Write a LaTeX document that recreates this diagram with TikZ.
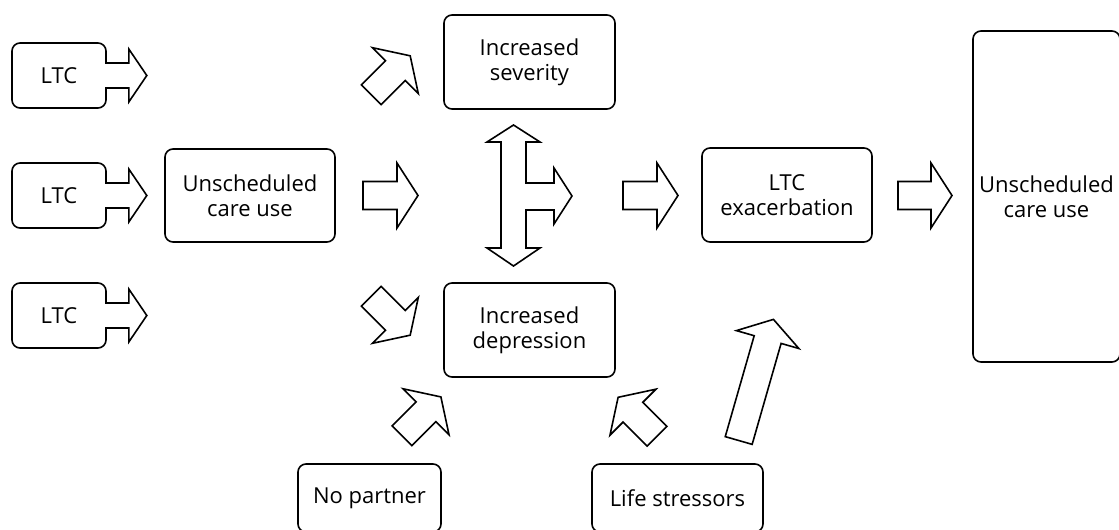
\documentclass[tikz,border=0pt]{standalone}
\usepackage{fontspec}
\setmainfont{Open Sans}
\tikzset{
  box/.style={draw, line width=1.6pt, rounded corners=8pt, align=center,
    inner sep=0pt, font=\fontsize{22}{25}\selectfont},
  outline/.style={draw, line width=1.6pt, line join=miter},
  % block arrow: base of the shaft at the origin, pointing along +x
  pics/blockarrow/.style={code={
    \draw[outline, fill=white] (0,-14) -- (#1,-14) -- (#1,-32.5) -- ({#1+21},0)
      -- (#1,32.5) -- (#1,14) -- (0,14) -- cycle;}},
  % arrow growing out of the right side of a box
  pics/boxarrow/.style={code={
    \fill[white] (-1.5,-11.7) rectangle (1.5,11.7);
    \draw[outline] (-0.8,12.5) -- (22,12.5) -- (22,26.5) -- (40,0)
      -- (22,-26.5) -- (22,-12.5) -- (-0.8,-12.5);}}
}
\begin{document}
\begin{tikzpicture}[x=1pt, y=1pt]
\useasboundingbox (0,0) rectangle (1119,-530);
\clip (0,0) rectangle (1119,-530);

% boxes
\node[box, minimum width=94, minimum height=65] (ltc1) at (59,-75.5) {LTC};
\node[box, minimum width=94, minimum height=65] (ltc2) at (59,-195.5) {LTC};
\node[box, minimum width=94, minimum height=65] (ltc3) at (59,-315.5) {LTC};
\node[box, minimum width=170, minimum height=93] (ucu) at (250,-195.5) {Unscheduled\\care use};
\node[box, minimum width=171, minimum height=94] (sev) at (529.5,-62) {Increased\\severity};
\node[box, minimum width=171, minimum height=94] (dep) at (529.5,-330) {Increased\\depression};
\node[box, minimum width=170, minimum height=94] (exac) at (787,-195) {LTC\\exacerbation};
\node[box, minimum width=147, minimum height=331] (ucu2) at (1046.5,-196.5) {Unscheduled\\care use};
\node[box, minimum width=143, minimum height=68] (nopart) at (369.5,-498) {No partner};
\node[box, minimum width=171, minimum height=68] (life) at (677.5,-498) {Life stressors};

% arrows attached to the LTC boxes
\pic at (ltc1.east) {boxarrow};
\pic at (ltc2.east) {boxarrow};
\pic at (ltc3.east) {boxarrow};

% free-standing block arrows
\pic at (363,-195.5) {blockarrow=34};
\pic at (623,-195.5) {blockarrow=34};
\pic at (898,-195.5) {blockarrow=33};
\pic[rotate=45] at (371.3,-94.7) {blockarrow=34};
\pic[rotate=-45] at (371.3,-296.3) {blockarrow=34};
\pic[rotate=45] at (402,-435.8) {blockarrow=34};
\pic[rotate=135] at (657,-436.2) {blockarrow=34};
\pic[rotate=74] at (738.7,-440.5) {blockarrow=105};

% two-way arrow between severity and depression, with a branch to the right
\draw[outline] (513.5,-125) -- (540,-142) -- (526,-142) -- (526,-183)
  -- (554,-183) -- (554,-168) -- (572,-196) -- (554,-224) -- (554,-210)
  -- (526,-210) -- (526,-248) -- (540,-248) -- (513.5,-266) -- (487,-248)
  -- (501,-248) -- (501,-142) -- (487,-142) -- cycle;
\end{tikzpicture}
\end{document}
